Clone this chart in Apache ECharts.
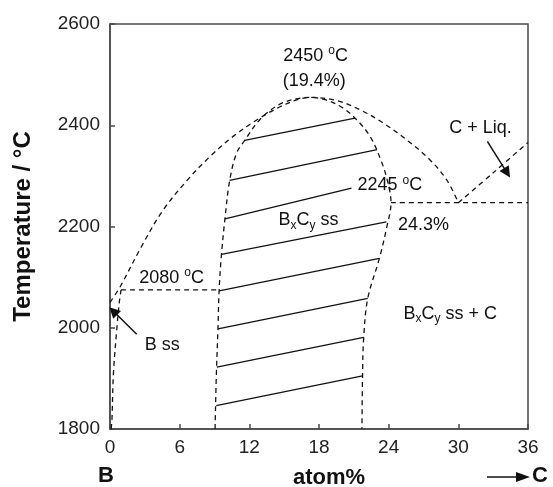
<!DOCTYPE html>
<html>
<head>
<meta charset="utf-8">
<script src="https://cdn.jsdelivr.net/npm/echarts@6/dist/echarts.min.js"></script>
<style>
	html, body { margin: 0; padding: 0; background: #fff; }
	#BCPhase { width: 553px; height: 487px; }
</style>
</head>
<body>
<div id="BCPhase"></div>
<script>
// atom% C on x, temperature (°C) on y
var xTicks = [0, 6, 12, 18, 24, 30, 36];
var yTicks = [1800, 2000, 2200, 2400, 2600];

// liquidus: B side -> congruent max -> eutectic with C
var liquidus = [[0, 2050], [0.9, 2082], [2.7, 2160], [4.5, 2230], [6.6, 2290], [8.6, 2338], [10.6, 2378], [12.6, 2410], [14.6, 2436], [16.2, 2451], [17.3, 2455], [19.5, 2449], [21.5, 2431], [23.5, 2405], [25.5, 2372], [27.5, 2333], [29, 2292], [30, 2247]];
// BxCy ss field boundary
var solidus = [[9.05, 1800], [9.15, 1900], [9.3, 2000], [9.4, 2075], [9.6, 2145], [9.9, 2215], [10.3, 2290], [10.9, 2345], [11.6, 2370], [12.9, 2411], [14.5, 2440], [16, 2452], [17.3, 2455], [18.6, 2450], [20, 2435], [21.2, 2412], [22.4, 2378], [23.3, 2333], [23.9, 2290], [24.2, 2247], [23.85, 2200], [23.2, 2137], [22.2, 2058], [21.85, 1981], [21.75, 1905], [21.7, 1800]];
// B ss solvus
var bSolvus = [[0.1, 1800], [0.17, 1820], [0.3, 1912], [0.6, 2001], [0.8, 2050], [0.95, 2075]];
var eutecticLow = [[0.95, 2075], [9.4, 2075]];
var eutecticHigh = [[24.2, 2247], [36, 2247]];
var carbonLiquidus = [[30, 2247], [33, 2306], [36, 2366]];

// tie lines inside BxCy ss
var tieLines = [
	[[11.6, 2370], [21.1, 2414]],
	[[10.3, 2291], [23.0, 2352]],
	[[9.9, 2215], [20.8, 2276]],
	[[9.6, 2145], [23.8, 2209]],
	[[9.4, 2073], [23.2, 2137]],
	[[9.3, 1998], [22.2, 2058]],
	[[9.2, 1922], [21.85, 1981]],
	[[9.15, 1846], [21.75, 1905]]
];
var arrows = [
	[[2.3, 1987], [0.28, 2033]],
	[[32.5, 2368], [34.2, 2306]]
];

// annotation text and where it sits (data coords)
var noteText = [
	'{n|2450 }{sup|o}{n|C}',
	'{n|(19.4%)}',
	'{n|C + Liq.}',
	'{n|2245 }{sup|o}{n|C}',
	'{n|24.3%}',
	'{n|B}{sub|x}{n|C}{sub|y}{n| ss}',
	'{n|B}{sub|x}{n|C}{sub|y}{n| ss + C}',
	'{n|2080 }{sup|o}{n|C}',
	'{n|B ss}'
];
var notePos = [[17.7, 2537], [17.6, 2488], [31.9, 2395], [24.1, 2281], [27.0, 2202], [17.1, 2212], [29.3, 2027], [5.3, 2098], [4.5, 1966]];

var FONT = 'Liberation Sans';
var INK = '#111';

function dashed(data) {
	return {
		type: 'line',
		data: data,
		smooth: 0.35,
		showSymbol: false,
		symbol: 'none',
		silent: true,
		lineStyle: { color: INK, width: 1.3, type: [5, 4] }
	};
}

var notes = noteText.map(function (t, i) {
	return { value: notePos[i], name: t };
});

var chart = echarts.init(document.getElementById('BCPhase'));
var option = {
	animation: false,
	backgroundColor: '#fff',
	grid: {
		left: 110, right: 25, top: 24, bottom: 58,
		outerBoundsMode: 'none',
		containLabel: false,
		show: true, borderColor: '#4a4a4a', borderWidth: 1.5
	},
	xAxis: {
		type: 'value', min: xTicks[0], max: xTicks[xTicks.length - 1], interval: 6,
		name: 'atom%', nameLocation: 'middle', nameGap: 38,
		nameTextStyle: { fontFamily: FONT, fontSize: 22, fontWeight: 'bold', color: INK, padding: [0, 0, 0, 20] },
		axisLine: { lineStyle: { color: '#4a4a4a', width: 1.5 } },
		axisTick: { inside: true, length: 5, lineStyle: { color: '#4a4a4a', width: 1.5 } },
		axisLabel: { fontFamily: FONT, fontSize: 19, color: '#222', margin: 9 },
		splitLine: { show: false }
	},
	yAxis: {
		type: 'value', min: yTicks[0], max: yTicks[yTicks.length - 1], interval: 200,
		name: 'Temperature / °C', nameLocation: 'middle', nameGap: 75, nameRotate: 90,
		nameTextStyle: { fontFamily: FONT, fontSize: 24, fontWeight: 'bold', color: INK },
		axisLine: { lineStyle: { color: '#4a4a4a', width: 1.5 } },
		axisTick: { inside: true, length: 5, lineStyle: { color: '#4a4a4a', width: 1.5 } },
		axisLabel: { fontFamily: FONT, fontSize: 19, color: '#222', margin: 10, formatter: function (v) { return String(v); } },
		splitLine: { show: false }
	},
	series: [
		dashed(liquidus),
		dashed(solidus),
		dashed(bSolvus),
		dashed(eutecticLow),
		dashed(eutecticHigh),
		dashed(carbonLiquidus),
		{
			type: 'lines',
			coordinateSystem: 'cartesian2d',
			silent: true,
			lineStyle: { color: INK, width: 1.3, opacity: 1 },
			data: tieLines.map(function (c) { return { coords: c }; })
		},
		{
			type: 'lines',
			coordinateSystem: 'cartesian2d',
			silent: true,
			symbol: ['none', 'triangle'],
			symbolSize: 11,
			lineStyle: { color: INK, width: 1.5, opacity: 1 },
			data: arrows.map(function (c) { return { coords: c }; })
		},
		{
			type: 'scatter',
			silent: true,
			symbolSize: 1,
			itemStyle: { color: 'rgba(0,0,0,0)' },
			data: notes,
			label: {
				show: true,
				position: 'inside',
				color: INK,
				opacity: 1,
				textBorderWidth: 0,
				formatter: function (p) { return p.name; },
				rich: {
					n: { fontFamily: FONT, fontSize: 18, color: INK, lineHeight: 22, textBorderWidth: 0 },
					sup: { fontFamily: FONT, fontSize: 12, color: INK, padding: [0, 0, 10, 0], textBorderWidth: 0 },
					sub: { fontFamily: FONT, fontSize: 12, color: INK, padding: [10, 0, 0, 0], textBorderWidth: 0 }
				}
			}
		}
	],
	graphic: [
		{ type: 'text', left: 98, top: 465, style: { text: 'B', fontFamily: FONT, fontSize: 22, fontWeight: 'bold', fill: INK } },
		{ type: 'line', shape: { x1: 487, y1: 477, x2: 518, y2: 477 }, style: { stroke: INK, lineWidth: 1.5 } },
		{ type: 'polygon', shape: { points: [[516, 472], [530, 477], [516, 482]] }, style: { fill: INK } },
		{ type: 'text', left: 532, top: 465, style: { text: 'C', fontFamily: FONT, fontSize: 22, fontWeight: 'bold', fill: INK } }
	]
};
chart.setOption(option);
</script>
</body>
</html>
